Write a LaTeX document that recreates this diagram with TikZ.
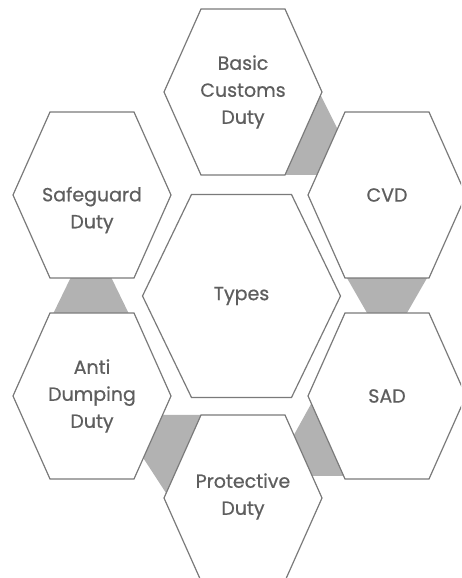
\documentclass[tikz,border=0pt]{standalone}
\usepackage{fontspec}
\setmainfont{Poppins}[FakeBold=0.6]
\usepackage{tikz}
\definecolor{hexline}{HTML}{7A7A7A}
\definecolor{gapfill}{HTML}{B2B2B2}
\definecolor{txtc}{HTML}{5E5E5E}
\tikzset{
  hexb/.style={draw=hexline,line width=1.2pt,fill=white,line join=miter},
  lbl/.style={text=txtc,font=\fontsize{19}{27}\selectfont,align=center,inner sep=0pt},
  gap/.style={fill=gapfill}
}

\begin{document}
\begin{tikzpicture}[x=1pt,y=1pt]
\clip (0,0) rectangle (461,578);
% grey pieces between the outer cells
\fill[gap] (318,488)--(342,440)--(330,403)--(280,403)--cycle;
\fill[gap] (71.5,302)--(110.5,302)--(129.5,263)--(52.5,263)--cycle;
\fill[gap] (345.8,302)--(428.2,302)--(405.8,263)--(368.2,263)--cycle;
\fill[gap] (150,163)--(210,163)--(166,85)--(140,125)--cycle;
\fill[gap] (316,183)--(290,136)--(305,102)--(350,102)--cycle;
% centre cell
\draw[hexb] (142.5,282)--(191.5,383.5)--(291.5,383.5)--(340.5,282)--(291.5,180.5)--(191.5,180.5)--cycle;
\node[lbl] (types) at (241.5,282) {Types};
% outer cells: name / centre / text height / text
\foreach \nm/\cx/\cy/\ty/\txt in {bcd/243/486/486/{Basic\\Customs\\Duty},
    cvd/387/383/383/{CVD}, sad/387/182/182/{SAD},
    pd/243/80/81.5/{Protective\\Duty}, add/92/182/182/{Anti\\Dumping\\Duty},
    sgd/92/383/368/{Safeguard\\Duty}}{
  \draw[hexb] (\cx-79,\cy)--(\cx-42,\cy+83)--(\cx+42,\cy+83)--(\cx+79,\cy)--(\cx+42,\cy-83)--(\cx-42,\cy-83)--cycle;
  \node[lbl] (\nm) at (\cx,\ty) {\txt};
}
\end{tikzpicture}
\end{document}
